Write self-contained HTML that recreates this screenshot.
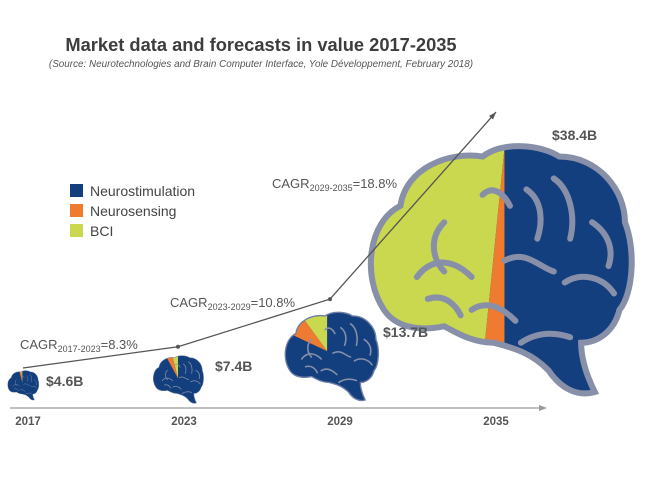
<!DOCTYPE html>
<html><head><meta charset="utf-8"><style>
body{margin:0;background:#fff;overflow:hidden;}
svg{display:block;font-family:"Liberation Sans",sans-serif;}
</style></head><body>
<svg id="chart" width="650" height="488" viewBox="0 0 650 488" overflow="hidden">
<text x="261" y="51" text-anchor="middle" font-size="18.3" font-weight="bold" fill="#3d3d3d">Market data and forecasts in value 2017-2035</text>
<text x="261" y="67" text-anchor="middle" font-size="9.9" font-style="italic" fill="#555">(Source: Neurotechnologies and Brain Computer Interface, Yole Développement, February 2018)</text>
<g font-size="14" fill="#444">
 <rect x="70" y="184" width="13" height="13" fill="#143f7e"/>
 <text x="90" y="196">Neurostimulation</text>
 <rect x="70" y="204" width="13" height="13" fill="#ef7b30"/>
 <text x="90" y="216">Neurosensing</text>
 <rect x="70" y="224" width="13" height="13" fill="#c9d84f"/>
 <text x="90" y="236">BCI</text>
</g>
<g id="axis"></g>
<g id="brains"></g>
<g id="trend"></g>
<g id="labels"></g>
</svg>
<script>
const years = [2017, 2023, 2029, 2035];
const values = [4.6, 7.4, 13.7, 38.4];
const valueLabels = ["$4.6B", "$7.4B", "$13.7B", "$38.4B"];
const neurostim = [96, 92, 82, 50];
const neurosensing = [2.5, 4, 8, 1.6];
const bci = [1.5, 4, 10, 48.4];
const cagrPeriods = ["2017-2023", "2023-2029", "2029-2035"];
const cagrValues = ["8.3%", "10.8%", "18.8%"];

const NS = "http://www.w3.org/2000/svg";
function el(tag, attrs, parent){const e=document.createElementNS(NS,tag);for(const k in attrs)e.setAttribute(k,attrs[k]);parent.appendChild(e);return e;}
const xScale = y => 28 + (y - 2017) * 26;
const wScale = v => v * 7.13;
const yTrend = v => 402.8 - v * 7.57;

// axis
const ax = document.getElementById('axis');
const axl = el('line',{x1:10,y1:408,x2:540,y2:408,stroke:'#9a9a9a','stroke-width':1.3},ax);


const axh = el('path',{d:'M547,408 L539,405 L539,411 Z',fill:'#9a9a9a'},ax);


years.forEach((y,i)=>{
  const t = el('text',{x:xScale(y),y:425,'text-anchor':'middle','font-size':11.5,'font-weight':'bold',fill:'#555'},ax);
  t.textContent = y;
  
  
});

const brainPath = "M8,62 C0,50 2,30 14,24 C16,10 32,4 44,6 C52,0 66,2 72,6 C86,6 96,18 96,30 C100,40 99,56 94,62 C92,70 86,74 80,74 C80,80 82,86 85,92 C78,94 72,90 68,84 C62,78 56,76 48,74 C40,74 34,70 30,68 C20,70 12,68 8,62 Z";
const sulci = ["M20,50 C26,42 34,44 40,50","M30,30 C24,36 26,44 30,48","M44,20 C48,16 52,20 54,24","M60,18 C66,22 66,30 64,36","M70,14 C76,18 78,28 76,36","M52,44 C60,40 64,46 70,48","M74,52 C80,48 88,50 92,56","M40,62 C46,58 52,62 56,66","M24,58 C30,56 34,60 36,64","M84,30 C90,34 92,40 90,46","M58,74 C64,70 70,70 76,72"];
const dx = [-5, -6, -9, 3];
const bottoms = [400, 403, 400, 392];
const pieC = [[48,40],[50,45],[46,42],[52,3]];
const br = document.getElementById('brains');
const cols = ['#c9d84f','#ef7b30','#143f7e'];
years.forEach((y,i)=>{
  const w = wScale(values[i]); const s = w/100; const h = 92*s;
  const x0 = xScale(y) + dx[i] - w/2; const y0 = bottoms[i] - h;
  const g = el('g',{transform:`translate(${x0},${y0}) scale(${s})`},br);
  
  
  const cp = el('clipPath',{id:'clip'+i},g);
  el('path',{d:brainPath},cp);
  const body = el('g',{'clip-path':`url(#clip${i})`},g);
  el('path',{d:brainPath,fill:'#143f7e'},body);
  const [cx,cy] = pieC[i]; const R = 100;
  const shares = [bci[i], neurosensing[i]]; const names=['bci','neurosensing'];
  let a0 = 0;
  shares.forEach((p,k)=>{
    const a1 = a0 + p/100*2*Math.PI;
    const pt = a => [cx - R*Math.sin(a), cy - R*Math.cos(a)];
    const [x1,y1] = pt(a0), [x2,y2] = pt(a1);
    const large = (a1-a0) > Math.PI ? 1 : 0;
    const sl = el('path',{d:`M${cx},${cy} L${x1},${y1} A${R},${R} 0 ${large} 0 ${x2},${y2} Z`,fill:cols[k]},body);
    
    
    a0 = a1;
  });
  const sw = i===3 ? 2.2 : (i===2 ? 1.6 : 1.4);
  sulci.forEach(d=>{ el('path',{d:d,fill:'none',stroke:'#8790a8','stroke-width':sw,'stroke-linecap':'round'},body); });
  const out = el('path',{d:brainPath,fill:'none',stroke:i===3?'#8790a8':'#6f7ea6','stroke-width':i===3?2.2:(i===2?1.4:1)},g);
  
  
});

// trend line
const tr = document.getElementById('trend');
const trendDx = [-5, -6, -10, 0];
const pts = years.map((y,i)=>[xScale(y)+trendDx[i], yTrend(values[i])]);
const poly = el('polyline',{points:pts.map(p=>p.join(',')).join(' '),fill:'none',stroke:'#555','stroke-width':1.3},tr);


const last = pts[3], prev = pts[2];
const ang = Math.atan2(last[1]-prev[1], last[0]-prev[0]);
const ah = el('path',{d:`M${last[0]},${last[1]} L${last[0]-8*Math.cos(ang-0.35)},${last[1]-8*Math.sin(ang-0.35)} L${last[0]-8*Math.cos(ang+0.35)},${last[1]-8*Math.sin(ang+0.35)} Z`,fill:'#555'},tr);


[1,2].forEach(i=>{ const d=el('circle',{cx:pts[i][0],cy:pts[i][1],r:2,fill:'#555'},tr);
  
   });

// labels
const lb = document.getElementById('labels');
const valPos = [[46,386],[215,371],[383,337],[552,140]];
valueLabels.forEach((t,i)=>{
  const e = el('text',{x:valPos[i][0],y:valPos[i][1],'font-size':14,'font-weight':'bold',fill:'#555'},lb);
  e.textContent = t;
  
  
});
const cagrPos = [[20,349],[170,307],[272,188]];
cagrPeriods.forEach((p,i)=>{
  const e = el('text',{x:cagrPos[i][0],y:cagrPos[i][1],'font-size':13,fill:'#555'},lb);
  
  
  const a = el('tspan',{},e); a.textContent='CAGR';
  const b = el('tspan',{'font-size':9,dy:3},e); b.textContent=p;
  const c = el('tspan',{dy:-3},e); c.textContent='='+cagrValues[i];
});
</script>
</body></html>
